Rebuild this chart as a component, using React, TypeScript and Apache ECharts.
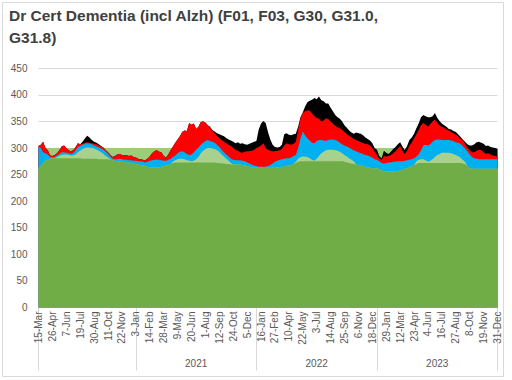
import React, { useEffect, useRef } from "react";
import * as echarts from "echarts";

// ---- categories: weekly dates from 15-Mar-2020 to 31-Dec-2023 ----
const MONTHS = ["Jan", "Feb", "Mar", "Apr", "May", "Jun", "Jul", "Aug", "Sep", "Oct", "Nov", "Dec"];
const START_UTC = Date.UTC(2020, 2, 15);
const WEEK_COUNT = 199;
const weekDates = Array.from({ length: WEEK_COUNT }, (_, i) => new Date(START_UTC + i * 7 * 86400000));
const categories = weekDates.map((d) => `${d.getUTCDate()}-${MONTHS[d.getUTCMonth()]}`);
const weekYears = weekDates.map((d) => d.getUTCFullYear());

// year group labels (first group, 2020, is unlabelled in the original)
const yearGroupLabels: Record<number, string> = { 2020: "", 2021: "2021", 2022: "2022", 2023: "2023" };

// y-axis ticks
const yTicks = [0, 50, 100, 150, 200, 250, 300, 350, 400, 450];

// flat background level
const bandLevel = 300;

// ---- series (cumulative tops of each stacked layer) ----
const darkGreenTop = [
  // 2020
  263, 266, 272, 276, 279, 280, 281, 281, 281, 281,
  281, 281, 281, 281, 281, 281, 281, 281, 281, 280,
  280, 280, 280, 280, 280, 280, 279, 279, 279, 279,
  279, 278, 277, 276, 275, 275, 274, 274, 273, 273,
  272, 271,
  // 2021
  270, 269, 268, 267, 266, 265, 264, 264, 264, 264,
  264, 265, 266, 267, 268, 270, 272, 273, 273, 273,
  273, 273, 273, 273, 273, 273, 273, 273, 273, 273,
  273, 273, 273, 273, 273, 272, 272, 271, 271, 270,
  270, 269, 269, 269, 269, 269, 268, 267, 266, 265,
  264, 263,
  // 2022
  263, 263, 263, 263, 263, 263, 263, 263, 263, 264,
  264, 265, 265, 266, 267, 268, 270, 272, 274, 275,
  275, 275, 275, 275, 275, 275, 275, 275, 275, 275,
  275, 275, 275, 275, 275, 275, 275, 275, 274, 273,
  272, 271, 270, 269, 268, 267, 266, 265, 264, 263,
  262, 261,
  // 2023
  262, 260, 258, 257, 256, 256, 256, 256, 256, 257,
  258, 259, 261, 262, 264, 266, 268, 270, 272, 272,
  272, 272, 272, 272, 272, 272, 272, 272, 272, 272,
  272, 272, 272, 272, 272, 272, 272, 271, 270, 266,
  262, 261, 261, 261, 261, 261, 261, 261, 261, 261,
  261, 261, 261,
];

const lightGreenTop = [
  // 2020
  263, 266, 272, 276, 279, 280, 281, 281, 283, 285,
  287, 288, 288, 287, 286, 286, 288, 292, 295, 298,
  300, 301, 301, 300, 299, 297, 295, 292, 289, 285,
  282, 279, 277, 276, 275, 275, 274, 274, 273, 273,
  272, 271,
  // 2021
  270, 269, 268, 267, 266, 265, 264, 264, 264, 264,
  264, 265, 266, 267, 268, 270, 274, 277, 279, 280,
  280, 279, 277, 276, 275, 276, 279, 283, 290, 295,
  298, 300, 300, 299, 298, 296, 293, 288, 284, 280,
  276, 272, 269, 269, 269, 269, 268, 267, 266, 265,
  264, 263,
  // 2022
  263, 263, 263, 263, 263, 263, 263, 263, 263, 264,
  264, 265, 265, 266, 267, 268, 270, 274, 280, 283,
  284, 284, 283, 281, 278, 276, 280, 285, 290, 293,
  296, 297, 297, 297, 296, 295, 293, 290, 287, 284,
  281, 278, 275, 269, 268, 267, 266, 265, 264, 263,
  262, 261,
  // 2023
  262, 260, 258, 257, 256, 256, 256, 256, 256, 257,
  258, 259, 261, 262, 264, 266, 268, 275, 278, 279,
  279, 277, 274, 276, 279, 283, 287, 289, 291, 291,
  291, 291, 290, 289, 287, 285, 282, 278, 274, 266,
  262, 261, 261, 261, 261, 261, 261, 261, 261, 261,
  261, 261, 261,
];

const blueTop = [
  // 2020
  303, 300, 292, 290, 288, 283, 282, 283, 286, 289,
  292, 292, 291, 290, 289, 290, 296, 302, 304, 306,
  308, 309, 308, 307, 305, 303, 301, 299, 297, 293,
  289, 284, 280, 279, 279, 280, 279, 278, 278, 277,
  277, 276,
  // 2021
  276, 275, 275, 274, 273, 274, 276, 277, 278, 278,
  278, 277, 276, 276, 278, 280, 283, 286, 290, 293,
  294, 292, 289, 287, 288, 292, 297, 301, 306, 310,
  313, 315, 313, 312, 310, 306, 302, 297, 292, 288,
  284, 280, 278, 277, 277, 277, 276, 275, 273, 271,
  269, 267,
  // 2022
  266, 265, 265, 265, 265, 266, 268, 271, 274, 276,
  278, 279, 280, 281, 281, 282, 285, 287, 300, 318,
  331, 324, 318, 314, 310, 309, 313, 315, 315, 314,
  313, 315, 316, 316, 315, 313, 310, 307, 305, 303,
  301, 298, 296, 294, 292, 290, 289, 287, 286, 284,
  282, 279,
  // 2023
  278, 275, 272, 271, 272, 273, 273, 274, 274, 275,
  275, 275, 276, 277, 278, 279, 281, 284, 288, 296,
  305, 306, 305, 307, 312, 315, 316, 316, 315, 315,
  315, 315, 314, 313, 311, 310, 308, 304, 299, 294,
  288, 283, 281, 280, 279, 279, 279, 279, 279, 279,
  279, 279, 279,
];

const redTop = [
  // 2020
  304, 306, 312, 300, 296, 286, 285, 287, 290, 296,
  303, 305, 300, 296, 294, 296, 302, 309, 307, 308,
  310, 311, 310, 309, 308, 307, 305, 303, 301, 296,
  292, 287, 283, 285, 288, 289, 287, 286, 287, 285,
  286, 283,
  // 2021
  282, 280, 279, 278, 277, 280, 284, 290, 294, 296,
  293, 292, 285, 282, 288, 296, 303, 310, 316, 322,
  330, 333, 332, 347, 344, 346, 336, 340, 349, 350,
  348, 343, 338, 333, 328, 323, 319, 315, 312, 309,
  306, 304, 300, 297, 295, 292, 291, 293, 294, 294,
  295, 297,
  // 2022
  300, 302, 305, 309, 300, 297, 295, 294, 294, 295,
  296, 298, 305, 309, 307, 306, 308, 312, 334, 355,
  366, 369, 371, 370, 365, 360, 357, 355, 350, 352,
  356, 354, 350, 346, 342, 339, 337, 334, 330, 326,
  323, 320, 317, 315, 313, 311, 309, 308, 307, 305,
  300, 293,
  // 2023
  287, 280, 278, 285, 284, 285, 287, 290, 294, 299,
  304, 295, 289, 295, 305, 310, 318, 326, 334, 343,
  347, 344, 340, 345, 350, 353, 348, 342, 340, 338,
  335, 333, 330, 328, 325, 322, 318, 314, 308, 301,
  296, 292, 292, 295, 297, 296, 292, 289, 290, 288,
  286, 285, 284,
];

const blackTop = [
  // 2020
  304, 306, 312, 300, 296, 286, 285, 287, 290, 296,
  303, 305, 300, 296, 294, 296, 302, 309, 307, 312,
  318, 323, 320, 315, 312, 310, 307, 304, 301, 296,
  292, 287, 283, 285, 288, 289, 287, 286, 287, 285,
  286, 283,
  // 2021
  282, 280, 279, 278, 277, 280, 284, 290, 294, 296,
  293, 292, 285, 282, 288, 296, 303, 310, 316, 322,
  330, 333, 332, 347, 344, 346, 336, 340, 349, 350,
  348, 343, 340, 334, 331, 328, 326, 324, 322, 319,
  316, 314, 312, 309, 311, 308, 309, 307, 306, 308,
  310, 312,
  // 2022
  313, 335, 346, 351, 347, 330, 316, 306, 302, 301,
  302, 306, 326, 328, 325, 324, 326, 327, 340, 358,
  367, 378, 386, 389, 391, 394, 392, 397, 390, 388,
  384, 384, 376, 369, 362, 358, 355, 350, 343, 338,
  333, 329, 327, 329, 328, 327, 324, 320, 317, 314,
  309, 300,
  // 2023
  297, 285, 281, 295, 291, 289, 293, 298, 302, 307,
  311, 303, 296, 304, 315, 320, 327, 337, 346, 358,
  362, 360, 358, 358, 360, 366, 357, 351, 346, 343,
  340, 336, 335, 332, 330, 326, 321, 316, 312, 307,
  305, 305, 307, 311, 312, 310, 308, 304, 305, 302,
  301, 300, 298,
];

const FONT = "'Liberation Sans', Arial, sans-serif";

export default function App() {
  const ref = useRef<HTMLDivElement>(null);

  useEffect(() => {
    if (!ref.current) return;
    const chart = echarts.init(ref.current, undefined, { renderer: "svg" });

    // year group boundaries and label positions
    const boundaries: number[] = [0];
    for (let i = 1; i < weekYears.length; i++) {
      if (weekYears[i] !== weekYears[i - 1]) boundaries.push(i);
    }
    boundaries.push(weekYears.length - 1);
    const yearLabelAt: Record<number, string> = {};
    for (let g = 0; g < boundaries.length - 1; g++) {
      const s = boundaries[g];
      const e = g === boundaries.length - 2 ? boundaries[g + 1] : boundaries[g + 1] - 1;
      const mid = Math.round((s + e) / 2);
      yearLabelAt[mid] = yearGroupLabels[weekYears[s]] ?? String(weekYears[s]);
    }

    const area = (name: string, data: number[], color: string) => ({
      name,
      type: "line",
      data,
      showSymbol: false,
      symbol: "none",
      lineStyle: { width: 0 },
      areaStyle: { color, opacity: 1 },
      silent: true,
    });

    chart.setOption({
      animation: false,
      backgroundColor: "#ffffff",
      title: {
        text: "Dr Cert Dementia (incl Alzh) (F01, F03, G30, G31.0,\nG31.8)",
        left: 9,
        top: 4,
        padding: 0,
        textStyle: {
          fontFamily: FONT,
          fontSize: 15.5,
          fontWeight: "bold",
          color: "#404040",
          lineHeight: 22,
        },
      },
      graphic: [
        {
          type: "rect",
          shape: { x: 2.5, y: 2.5, width: 501, height: 374 },
          style: { fill: "none", stroke: "#D9D9D9", lineWidth: 1 },
          silent: true,
        },
      ],
      grid: { left: 38.5, right: 14.5, top: 68.3, bottom: 72.5, containLabel: false },
      xAxis: [
        {
          type: "category",
          data: categories,
          boundaryGap: false,
          axisLine: { show: true, lineStyle: { color: "#D9D9D9" } },
          axisTick: { show: false },
          axisLabel: {
            interval: 5,
            rotate: 90,
            fontSize: 10,
            fontFamily: FONT,
            color: "#595959",
            margin: 4,
          },
          splitLine: { show: false },
        },
        {
          type: "category",
          data: categories,
          boundaryGap: false,
          position: "bottom",
          axisLine: { show: false },
          axisTick: {
            show: true,
            interval: (i: number) => boundaries.includes(i),
            length: 63,
            lineStyle: { color: "#D9D9D9" },
          },
          axisLabel: {
            interval: (i: number) => yearLabelAt[i] !== undefined,
            formatter: (_v: string, i: number) => yearLabelAt[i] ?? "",
            fontSize: 10,
            fontFamily: FONT,
            color: "#595959",
            margin: 51,
          },
          splitLine: { show: false },
        },
      ],
      yAxis: {
        type: "value",
        min: yTicks[0],
        max: yTicks[yTicks.length - 1],
        interval: yTicks[1] - yTicks[0],
        axisLine: { show: false },
        axisTick: { show: false },
        axisLabel: { fontSize: 10, fontFamily: FONT, color: "#595959", margin: 11 },
        splitLine: { lineStyle: { color: "#D9D9D9", width: 1 } },
      },
      series: [
        area("Level", categories.map(() => bandLevel), "#9ECC78"),
        area("Black", blackTop, "#000000"),
        area("Red", redTop, "#FF0000"),
        area("Blue", blueTop, "#00B0F0"),
        area("Light green", lightGreenTop, "#A9D18E"),
        area("Dark green", darkGreenTop, "#70AD47"),
      ],
    });

    return () => chart.dispose();
  }, []);

  return (
    <div
      ref={ref}
      style={{ position: "absolute", left: 0, top: 0, width: 512, height: 380 }}
    />
  );
}
